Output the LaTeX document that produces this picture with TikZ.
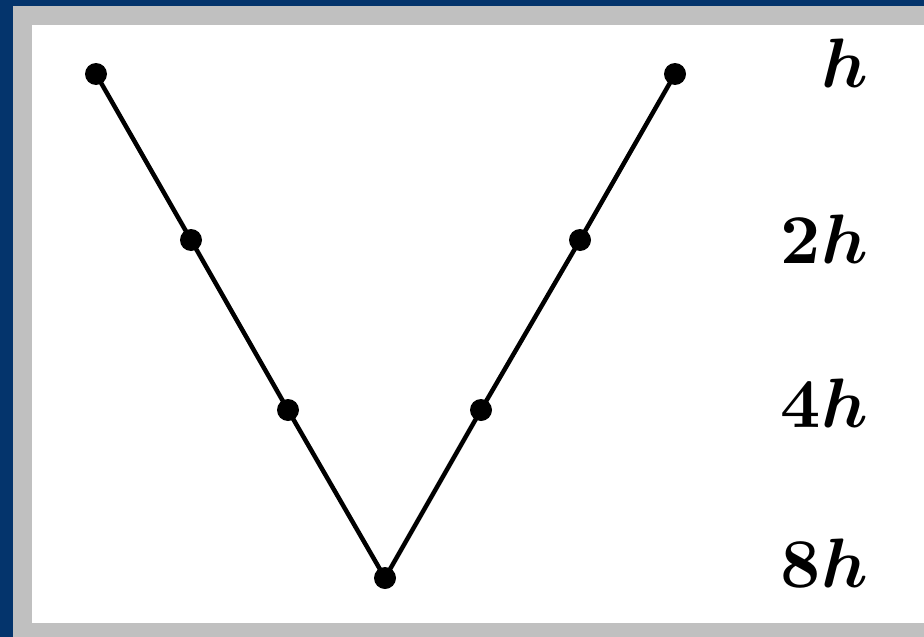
\documentclass[tikz,border=0pt]{standalone}
\usepackage{graphicx}
\definecolor{frameblue}{RGB}{4,52,108}
\definecolor{framegray}{RGB}{192,192,192}
\newcommand{\biglbl}[1]{\scalebox{7}{\fontsize{10}{12}\selectfont\boldmath$#1$}}
\tikzset{
  dot/.style={circle, fill=black, inner sep=0pt, minimum size=22pt},
  lbl/.style={anchor=base east, inner sep=0pt},
  edge/.style={line width=4.5pt}
}
\begin{document}
\begin{tikzpicture}[x=1pt,y=-1pt]
\useasboundingbox (0,0) rectangle (924,637);
\fill[frameblue] (0,0) rectangle (924,637);
\fill[framegray] (13,6) rectangle (924,637);
\fill[white] (32,25) rectangle (924,623);
\node[dot] (l1) at (96,74) {};
\node[dot] (l2) at (191,240) {};
\node[dot] (l3) at (288,410) {};
\node[dot] (b) at (385,578) {};
\node[dot] (r3) at (481,410) {};
\node[dot] (r2) at (580,240) {};
\node[dot] (r1) at (675,74) {};
\draw[edge] (l1.center) -- (l2.center) -- (l3.center) -- (b.center) -- (r3.center) -- (r2.center) -- (r1.center);
\node[lbl] (t1) at (868,87) {\biglbl{h}};
\node[lbl] (t2) at (868,263) {\biglbl{2h}};
\node[lbl] (t3) at (868,427) {\biglbl{4h}};
\node[lbl] (t4) at (868,587) {\biglbl{8h}};
\end{tikzpicture}
\end{document}
